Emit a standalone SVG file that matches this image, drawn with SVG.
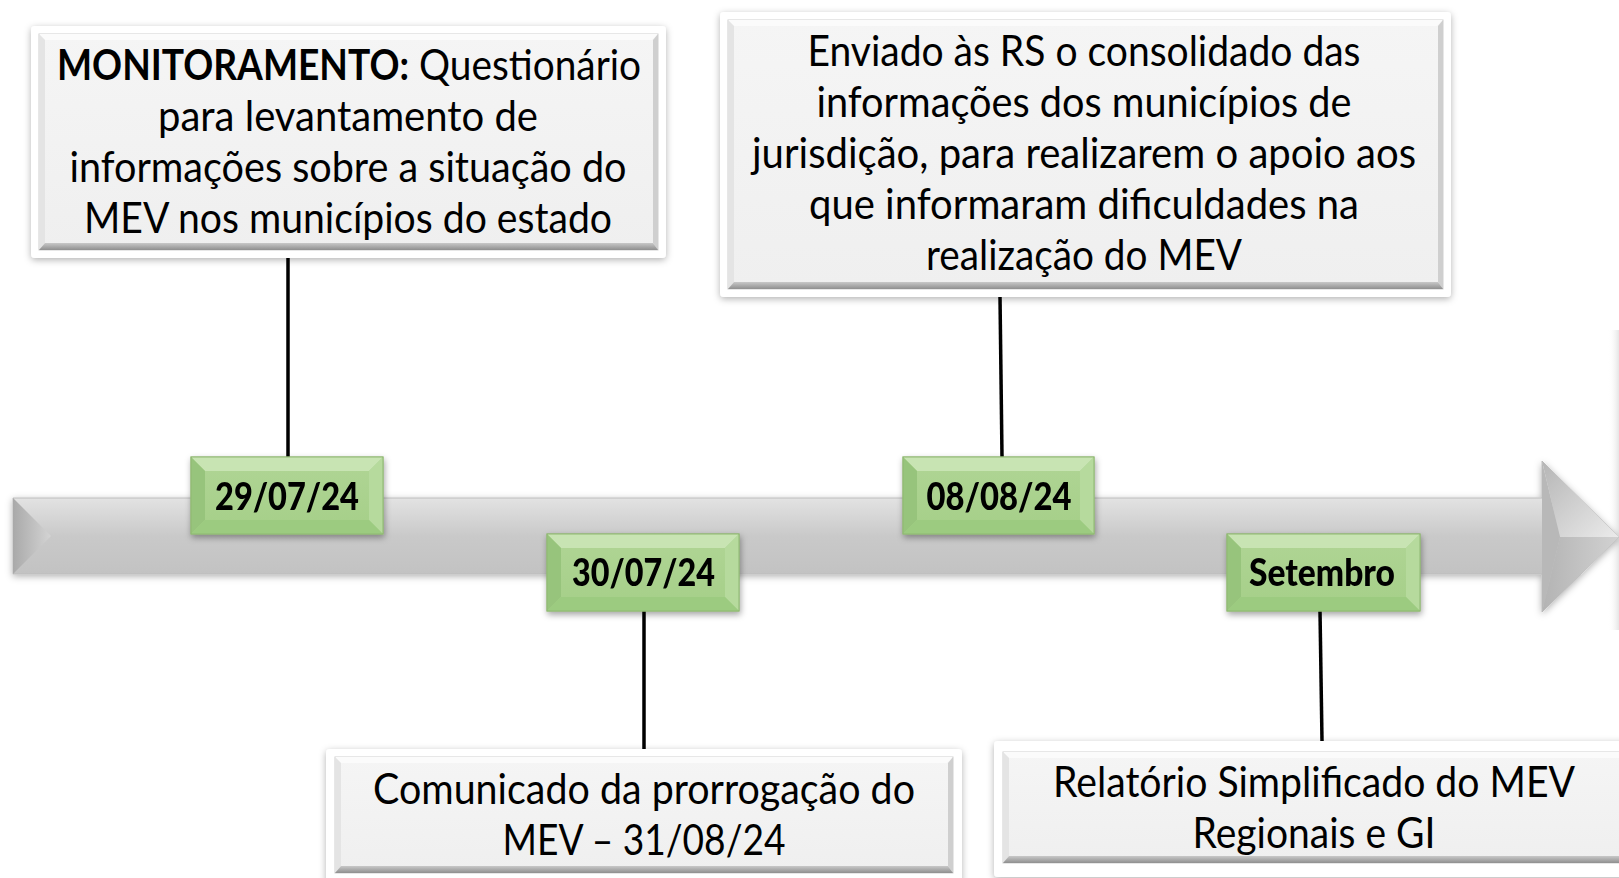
<svg xmlns="http://www.w3.org/2000/svg" width="1619" height="878" viewBox="0 0 1619 878">
<style>
.t{font-family:Lato,"Open Sans","Liberation Sans",sans-serif;font-size:42px;fill:#000;text-anchor:middle}
.tl{font-family:Lato,"Open Sans","Liberation Sans",sans-serif;font-size:42px;fill:#000}
.b{font-weight:bold}
.d{font-family:Lato,"Open Sans","Liberation Sans",sans-serif;font-size:37px;font-weight:900;fill:#000;text-anchor:middle}
.card{fill:#ffffff;filter:url(#sh)}
.face{fill:url(#gface);stroke:#d0d0d0;stroke-width:1}
.bt{fill:#fbfbfb}
.bl{fill:#e4e4e4}
.br{fill:#cfcfcf}
.bb{fill:url(#gbot)}
.gface{fill:url(#ggreen);stroke:#8fb872;stroke-width:1}
.gt{fill:#c8e4b3}
.gl{fill:#97c47b}
.gr{fill:#b6da9d}
.gb{fill:#9ccb80}
.ln{stroke:#000;stroke-width:3.5;fill:none}
</style>
<defs>
<filter id="sh" x="-10%" y="-10%" width="120%" height="130%">
<feDropShadow dx="0" dy="2" stdDeviation="3.5" flood-color="#000" flood-opacity="0.3"/>
</filter>
<filter id="sh2" x="-10%" y="-10%" width="120%" height="140%">
<feDropShadow dx="1" dy="3" stdDeviation="3" flood-color="#000" flood-opacity="0.35"/>
</filter>
<linearGradient id="gface" x1="0" y1="0" x2="0" y2="1">
<stop offset="0" stop-color="#f5f5f5"/><stop offset="1" stop-color="#efefef"/>
</linearGradient>
<linearGradient id="gbot" x1="0" y1="0" x2="0" y2="1">
<stop offset="0" stop-color="#c8c8c8"/><stop offset="1" stop-color="#8f8f8f"/>
</linearGradient>
<linearGradient id="ggreen" x1="0" y1="0" x2="0" y2="1">
<stop offset="0" stop-color="#b0d595"/><stop offset="1" stop-color="#a5cf88"/>
</linearGradient>
<linearGradient id="garrow" x1="0" y1="0" x2="0" y2="1">
<stop offset="0" stop-color="#f7f7f7"/><stop offset="0.25" stop-color="#e2e2e2"/><stop offset="0.5" stop-color="#c9c9c9"/><stop offset="0.95" stop-color="#bdbdbd"/><stop offset="1" stop-color="#e6e6e6"/>
</linearGradient>
<linearGradient id="gleft" x1="0" y1="0" x2="1" y2="0">
<stop offset="0" stop-color="#a9a9a9"/><stop offset="1" stop-color="#d4d4d4"/>
</linearGradient>
<linearGradient id="ghu" x1="0" y1="0" x2="1" y2="1">
<stop offset="0" stop-color="#b5b5b5"/><stop offset="1" stop-color="#ebebeb"/>
</linearGradient>
<linearGradient id="ghl" x1="0" y1="0" x2="1" y2="0">
<stop offset="0" stop-color="#b3b3b3"/><stop offset="1" stop-color="#d2d2d2"/>
</linearGradient>
<linearGradient id="gedge" x1="0" y1="0" x2="1" y2="0">
<stop offset="0" stop-color="#ffffff" stop-opacity="0"/><stop offset="1" stop-color="#dedede"/>
</linearGradient>
</defs>
<rect width="1619" height="878" fill="#ffffff"/>

<!-- faint shape at right edge -->
<rect x="1608" y="330" width="11" height="300" fill="url(#gedge)" opacity="0.8"/>

<!-- timeline arrow -->
<g id="timeline">
<polygon points="13,498 1542,498 1542,461 1619,537 1542,612 1542,574 13,574" fill="url(#garrow)" stroke="#bcbcbc" stroke-width="1" filter="url(#sh)"/>
<polygon points="13,498 51,536 13,574" fill="url(#gleft)"/>
<polygon points="1542,461 1619,537 1560,537" fill="url(#ghu)"/>
<polygon points="1542,612 1619,537 1560,537" fill="url(#ghl)"/>
<polygon points="1542,461 1560,537 1542,612" fill="#b8b8b8"/>
</g>

<!-- connectors -->
<g id="connectors">
<line class="ln" x1="288" y1="258" x2="288" y2="457"/>
<line class="ln" x1="644" y1="611" x2="644" y2="749"/>
<line class="ln" x1="1000" y1="297" x2="1002" y2="457"/>
<line class="ln" x1="1320" y1="611" x2="1322" y2="741"/>
</g>

<!-- Box 1 -->
<g id="box1">
<rect class="card" x="31" y="26" width="635" height="232" rx="4"/>
<rect class="face" x="39" y="34" width="619" height="216"/>
<polygon class="bt" points="39,34 658,34 652,40 45,40"/>
<polygon class="bl" points="39,34 45,40 45,243 39,250"/>
<polygon class="br" points="658,34 658,250 653,243 653,40"/>
<polygon class="bb" points="39,250 658,250 653,243 45,243"/>
<text class="tl b" x="0" y="0" transform="translate(57,80) scale(0.885,1)">MONITORAMENTO:</text>
<text class="tl" x="0" y="0" transform="translate(419,80) scale(0.925,1)">Questionário</text>
<text class="t" x="348" y="131" textLength="380" lengthAdjust="spacingAndGlyphs">para levantamento de</text>
<text class="t" x="348" y="182" textLength="557" lengthAdjust="spacingAndGlyphs">informações sobre a situação do</text>
<text class="t" x="348" y="233" textLength="528" lengthAdjust="spacingAndGlyphs">MEV nos municípios do estado</text>
</g>

<!-- Box 2 -->
<g id="box2">
<rect class="card" x="720" y="12" width="731" height="285" rx="4"/>
<rect class="face" x="728" y="20" width="715" height="269"/>
<polygon class="bt" points="728,20 1443,20 1437,26 734,26"/>
<polygon class="bl" points="728,20 734,26 734,282 728,289"/>
<polygon class="br" points="1443,20 1443,289 1438,282 1438,26"/>
<polygon class="bb" points="728,289 1443,289 1438,282 734,282"/>
<text class="t" x="1084" y="66" textLength="553" lengthAdjust="spacingAndGlyphs">Enviado às RS o consolidado das</text>
<text class="t" x="1084" y="117" textLength="535" lengthAdjust="spacingAndGlyphs">informações dos municípios de</text>
<text class="t" x="1084" y="168" textLength="664" lengthAdjust="spacingAndGlyphs">jurisdição, para realizarem o apoio aos</text>
<text class="t" x="1084" y="219" textLength="550" lengthAdjust="spacingAndGlyphs">que informaram dificuldades na</text>
<text class="t" x="1084" y="270" textLength="316" lengthAdjust="spacingAndGlyphs">realização do MEV</text>
</g>

<!-- Box 3 -->
<g id="box3">
<rect class="card" x="326" y="749" width="636" height="135" rx="4"/>
<rect class="face" x="335" y="757" width="618" height="116"/>
<polygon class="bt" points="335,757 953,757 947,763 341,763"/>
<polygon class="bl" points="335,757 341,763 341,866 335,873"/>
<polygon class="br" points="953,757 953,873 948,866 948,763"/>
<polygon class="bb" points="335,873 953,873 948,866 341,866"/>
<text class="t" x="644" y="804" textLength="542" lengthAdjust="spacingAndGlyphs">Comunicado da prorrogação do</text>
<text class="t" x="644" y="855" textLength="283" lengthAdjust="spacingAndGlyphs">MEV – 31/08/24</text>
</g>

<!-- Box 4 -->
<g id="box4">
<rect class="card" x="994" y="741" width="640" height="136" rx="4"/>
<rect class="face" x="1003" y="752" width="622" height="111"/>
<polygon class="bt" points="1003,752 1625,752 1619,758 1009,758"/>
<polygon class="bl" points="1003,752 1009,758 1009,856 1003,863"/>
<polygon class="bb" points="1003,863 1625,863 1619,856 1009,856"/>
<text class="t" x="1314" y="797" textLength="522" lengthAdjust="spacingAndGlyphs">Relatório Simplificado do MEV</text>
<text class="t" x="1314" y="848" textLength="243" lengthAdjust="spacingAndGlyphs">Regionais e GI</text>
</g>

<!-- Date 1 -->
<g id="date1" filter="url(#sh2)">
<rect class="gface" x="191" y="457" width="192" height="77"/>
<polygon class="gt" points="191,457 383,457 369,471 205,471"/>
<polygon class="gl" points="191,457 205,471 205,520 191,534"/>
<polygon class="gr" points="383,457 383,534 369,520 369,471"/>
<polygon class="gb" points="191,534 383,534 369,520 205,520"/>
<rect x="191" y="457" width="192" height="77" fill="none" stroke="#8fb872" stroke-width="1"/>
<text class="d" x="287" y="510" textLength="144" lengthAdjust="spacingAndGlyphs">29/07/24</text>
</g>

<!-- Date 2 -->
<g id="date2" filter="url(#sh2)">
<rect class="gface" x="547" y="534" width="192" height="77"/>
<polygon class="gt" points="547,534 739,534 725,548 561,548"/>
<polygon class="gl" points="547,534 561,548 561,597 547,611"/>
<polygon class="gr" points="739,534 739,611 725,597 725,548"/>
<polygon class="gb" points="547,611 739,611 725,597 561,597"/>
<rect x="547" y="534" width="192" height="77" fill="none" stroke="#8fb872" stroke-width="1"/>
<text class="d" x="643.5" y="586" textLength="143" lengthAdjust="spacingAndGlyphs">30/07/24</text>
</g>

<!-- Date 3 -->
<g id="date3" filter="url(#sh2)">
<rect class="gface" x="903" y="457" width="191" height="77"/>
<polygon class="gt" points="903,457 1094,457 1080,471 917,471"/>
<polygon class="gl" points="903,457 917,471 917,520 903,534"/>
<polygon class="gr" points="1094,457 1094,534 1080,520 1080,471"/>
<polygon class="gb" points="903,534 1094,534 1080,520 917,520"/>
<rect x="903" y="457" width="191" height="77" fill="none" stroke="#8fb872" stroke-width="1"/>
<text class="d" x="999" y="510" textLength="145" lengthAdjust="spacingAndGlyphs">08/08/24</text>
</g>

<!-- Date 4 -->
<g id="date4" filter="url(#sh2)">
<rect class="gface" x="1227" y="534" width="193" height="77"/>
<polygon class="gt" points="1227,534 1420,534 1406,548 1241,548"/>
<polygon class="gl" points="1227,534 1241,548 1241,597 1227,611"/>
<polygon class="gr" points="1420,534 1420,611 1406,597 1406,548"/>
<polygon class="gb" points="1227,611 1420,611 1406,597 1241,597"/>
<rect x="1227" y="534" width="193" height="77" fill="none" stroke="#8fb872" stroke-width="1"/>
<text class="d" x="1322" y="586" textLength="146" lengthAdjust="spacingAndGlyphs">Setembro</text>
</g>
</svg>
